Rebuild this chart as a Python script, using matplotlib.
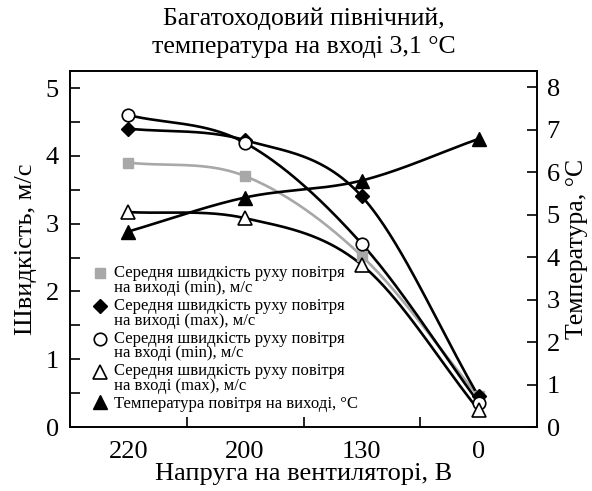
import numpy as np
import matplotlib
matplotlib.use("Agg")
import matplotlib.pyplot as plt
from matplotlib.lines import Line2D

plt.rcParams['font.family'] = ['Liberation Serif', 'DejaVu Serif']

categories = ["220", "200", "130", "0"]
out_min = [3.9, 3.7, 2.52, 0.45]     # grey squares, m/s
out_max = [4.4, 4.23, 3.4, 0.45]     # black diamonds, m/s
in_min = [4.6, 4.19, 2.7, 0.36]      # open circles, m/s
in_max = [3.17, 3.08, 2.39, 0.25]    # open triangles, m/s
temp_out = [4.6, 5.4, 5.8, 6.78]     # filled triangles, °C

labels = [
    "Середня швидкість руху повітря\nна виході (min), м/с",
    "Середня швидкість руху повітря\nна виході (max), м/с",
    "Середня швидкість руху повітря\nна вході (min), м/с",
    "Середня швидкість руху повітря\nна вході (max), м/с",
    "Температура повітря на виході, °С",
]

def smooth(y, n=60):
    y = np.asarray(y, float)
    x = np.arange(len(y), dtype=float)
    m = np.empty_like(y)
    m[1:-1] = (y[2:] - y[:-2]) / 2.0
    m[0] = y[1] - y[0]
    m[-1] = y[-1] - y[-2]
    xs, ys = [], []
    for i in range(len(y) - 1):
        t = np.linspace(0, 1, n)
        h00 = 2*t**3 - 3*t**2 + 1
        h10 = t**3 - 2*t**2 + t
        h01 = -2*t**3 + 3*t**2
        h11 = t**3 - t**2
        xs.append(x[i] + t)
        ys.append(h00*y[i] + h10*m[i] + h01*y[i+1] + h11*m[i+1])
    return np.concatenate(xs), np.concatenate(ys)

fig = plt.figure(figsize=(5.92, 4.91), dpi=100)
ax = fig.add_axes([70/592, 1-427/491, 467/592, 356/491])
ax2 = ax.twinx()

x = np.arange(len(categories))
lw = 1.9
grey = '#a8a8a8'

xs, ys = smooth(out_min)
ax.plot(xs, ys, color=grey, lw=lw, zorder=2)
for data in (out_max, in_min, in_max):
    xs, ys = smooth(data)
    ax.plot(xs, ys, color='black', lw=lw, zorder=2)

ax.plot(x, out_min, ls='none', marker='s', ms=7.5, color=grey, mec=grey, zorder=3)
ax.plot(x, out_max, ls='none', marker='D', ms=7.5, color='black', zorder=3)
ax.plot(x, in_min, ls='none', marker='o', ms=9, mfc='white', mec='black', mew=1.2, zorder=4)
ax.plot(x, in_max, ls='none', marker='^', ms=9.5, mfc='white', mec='black', mew=1.2, zorder=4)

xs, ys = smooth(temp_out)
ax2.plot(xs, ys, color='black', lw=lw, zorder=2)
ax2.plot(x, temp_out, ls='none', marker='^', ms=10, color='black', zorder=3)

ax.set_xlim(-0.5, 3.5)
ax.set_ylim(0, 356/67.8)
ax2.set_ylim(0, 356/42.5)

ax.set_xticks(x)
ax.set_xticklabels(categories)
ax.set_xticks(np.arange(0.5, 3, 1), minor=True)
ax.tick_params(axis='x', which='major', length=0, pad=10, labelsize=19)
ax.tick_params(axis='x', which='minor', direction='in', length=7, width=1.2)
ax.set_yticks(np.arange(0, 6, 1))
ax.set_yticks(np.arange(0.5, 5, 1), minor=True)
ax.tick_params(axis='y', which='both', direction='in', length=7, width=1.2, labelsize=19, pad=8)
ax2.set_yticks(np.arange(0, 9, 1))
ax2.tick_params(axis='y', direction='in', length=7, width=1.2, labelsize=19, pad=7)

for a in (ax, ax2):
    for s in a.spines.values():
        s.set_linewidth(1.2)

ax.set_ylabel("Швидкість, м/с", fontsize=19, labelpad=6)
ax2.set_ylabel("Температура, °С", fontsize=18.5, labelpad=4)
ax.set_xlabel("Напруга на вентиляторі, В", fontsize=19, labelpad=0)
ax.set_title("Багатоходовий північний,\nтемпература на вході 3,1 °С", fontsize=18.5, pad=13, linespacing=1.35)

handles = [
    Line2D([], [], ls='none', marker='s', ms=7.5, color=grey, mec=grey),
    Line2D([], [], ls='none', marker='D', ms=7.5, color='black'),
    Line2D([], [], ls='none', marker='o', ms=9, mfc='white', mec='black', mew=1.2),
    Line2D([], [], ls='none', marker='^', ms=9.5, mfc='white', mec='black', mew=1.2),
    Line2D([], [], ls='none', marker='^', ms=10, color='black'),
]
leg = ax.legend(handles, labels, loc='upper left', bbox_to_anchor=(0.05, 0.455),
                frameon=False, fontsize=12, handlelength=0.8, handletextpad=0.45,
                labelspacing=0.12, borderpad=0, borderaxespad=0)
for t in leg.get_texts():
    t.set_linespacing(0.9)
for h, lab in zip(leg.legend_handles, labels):
    if "\n" in lab:
        h.set_ydata(np.asarray(h.get_ydata()) + 5.2)
leg.set_zorder(1)

fig.savefig("out.png", dpi=100)
